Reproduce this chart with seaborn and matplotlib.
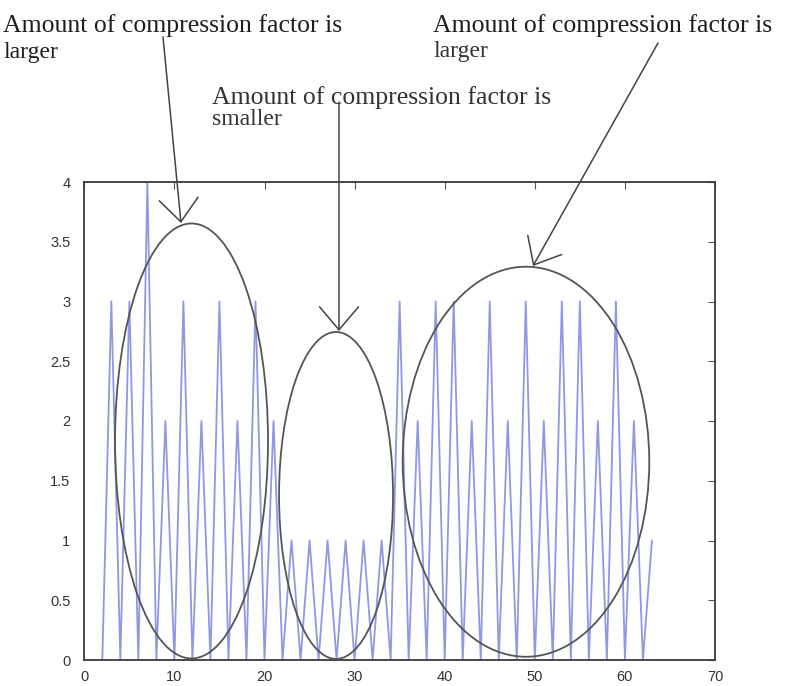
import matplotlib
matplotlib.use("Agg")
import matplotlib.pyplot as plt
import pandas as pd
import seaborn as sns
from matplotlib.patches import Ellipse, FancyArrowPatch

# Compression factor per block index
block = list(range(2, 64))
factor = [
    0, 3, 0, 3, 0, 4, 0, 2, 0, 3,   # blocks 2-11
    0, 2, 0, 3, 0, 2, 0, 3, 0, 2,   # blocks 12-21
    0, 1, 0, 1, 0, 1, 0, 1, 0, 1,   # blocks 22-31
    0, 1, 0, 3, 0, 2, 0, 3, 0, 3,   # blocks 32-41
    0, 2, 0, 3, 0, 2, 0, 3, 0, 2,   # blocks 42-51
    0, 3, 0, 3, 0, 2, 0, 3, 0, 2,   # blocks 52-61
    0, 1,                           # blocks 62-63
]

x_ticks = [0, 10, 20, 30, 40, 50, 60, 70]
y_ticks = [0, 0.5, 1, 1.5, 2, 2.5, 3, 3.5, 4]

label_larger = ["Amount of compression factor is", "larger"]
label_smaller = ["Amount of compression factor is", "smaller"]

df = pd.DataFrame({"block": block, "factor": factor})

sns.set_theme(style="white")
plt.rcParams["font.family"] = ["Liberation Sans", "DejaVu Sans"]

W, H = 796, 686
fig = plt.figure(figsize=(W / 100, H / 100), dpi=100)
fig.patch.set_facecolor("white")


def fx(px):
    return px / W


def fy(py):
    return (H - py) / H


ax = fig.add_axes([fx(84.3), fy(660), fx(715) - fx(84.3), fy(182) - fy(660)])
ax.set_facecolor("white")

sns.lineplot(data=df, x="block", y="factor", ax=ax, color="#8f98e4",
             linewidth=1.3, estimator=None, sort=False)

ax.set_xlim(0, 70)
ax.set_ylim(0, 4)
ax.set_xticks(x_ticks)
ax.set_yticks(y_ticks)
ax.set_xticklabels([str(t) for t in x_ticks])
ax.set_yticklabels([f"{t:g}" for t in y_ticks])
ax.set_xlabel("")
ax.set_ylabel("")
ax.tick_params(direction="in", length=5, width=0.8, color="#555555",
               top=True, right=True, labelsize=10.5, labelcolor="#333333")
ax.tick_params(axis="x", pad=7)
ax.tick_params(axis="y", pad=10)
for s in ax.spines.values():
    s.set_visible(True)
    s.set_color("#3a3a3a")
    s.set_linewidth(1.3)

# Ellipses grouping blocks with similar compression behaviour
ellipse_style = dict(fill=False, edgecolor="#555555", linewidth=1.3,
                     clip_on=False, zorder=5)
ax.add_patch(Ellipse((11.9, 1.833), 16.98, 3.64, **ellipse_style))
ax.add_patch(Ellipse((27.94, 1.377), 12.65, 2.736, **ellipse_style))
ax.add_patch(Ellipse((49.02, 1.659), 27.37, 3.264, **ellipse_style))

# Callout texts
serif = ["Liberation Serif", "DejaVu Serif"]
tsize = 18.5
dark = "#1e1e1e"
grey = "#333333"

fig.text(fx(3), fy(32), label_larger[0], ha="left", va="baseline",
         fontsize=tsize, family=serif, color=dark)
fig.text(fx(3), fy(58), label_larger[1], ha="left", va="baseline",
         fontsize=tsize - 1.5, family=serif, color=dark)

fig.text(fx(212), fy(104), label_smaller[0], ha="left", va="baseline",
         fontsize=tsize, family=serif, color=grey)
fig.text(fx(212), fy(125), label_smaller[1], ha="left", va="baseline",
         fontsize=tsize - 1.5, family=serif, color=grey)

fig.text(fx(433), fy(32), label_larger[0], ha="left", va="baseline",
         fontsize=tsize, family=serif, color=dark)
fig.text(fx(433), fy(57), label_larger[1], ha="left", va="baseline",
         fontsize=tsize - 1.5, family=serif, color=grey)

# Arrows from the callouts to the ellipses
arrow_style = "->,head_length=1.65,head_width=1.4"
for tail, tip in [((163, 37), (181, 223)),
                  ((339, 102), (339, 331)),
                  ((658, 43), (533, 266))]:
    arr = FancyArrowPatch((fx(tail[0]), fy(tail[1])), (fx(tip[0]), fy(tip[1])),
                          transform=fig.transFigure, arrowstyle=arrow_style,
                          mutation_scale=10, color="#444444", linewidth=1.1,
                          shrinkA=0, shrinkB=0, zorder=6)
    fig.add_artist(arr)

fig.savefig("out.png", dpi=100, facecolor="white")
